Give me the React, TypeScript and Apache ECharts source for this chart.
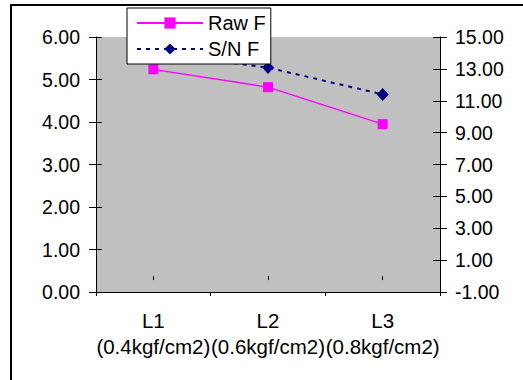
import React, { useEffect, useRef } from "react";
import * as echarts from "echarts";

const categories = ["L1\n(0.4kgf/cm2)", "L2\n(0.6kgf/cm2)", "L3\n(0.8kgf/cm2)"];
const rawF = [5.24, 4.82, 3.95];
const snF = [14.0, 13.08, 11.4];
const leftTicks = [0, 1, 2, 3, 4, 5, 6];
const rightTicks = [-1, 1, 3, 5, 7, 9, 11, 13, 15];

const FONT = "'Liberation Sans', Arial, sans-serif";

export default function App() {
  const ref = useRef<HTMLDivElement>(null);
  useEffect(() => {
    if (!ref.current) return;
    const chart = echarts.init(ref.current, null, { renderer: "svg" });
    const labelStyle = { color: "#000", fontSize: 19.5, fontFamily: FONT };
    chart.setOption({
      animation: false,
      backgroundColor: "#fff",
      textStyle: { fontFamily: FONT },
      graphic: [
        {
          type: "rect",
          shape: { x: 11, y: 5, width: 700, height: 600 },
          style: { fill: "none", stroke: "#000", lineWidth: 2 },
          silent: true,
          z: 0,
        },
      ],
      grid: {
        left: 96,
        right: 83,
        top: 37,
        bottom: 88,
        show: true,
        backgroundColor: "#C0C0C0",
        borderWidth: 0,
      },
      legend: {
        orient: "vertical",
        left: 127,
        top: 8,
        padding: [5, 5, 5, 9],
        itemGap: 6,
        itemWidth: 66,
        itemHeight: 14,
        backgroundColor: "#fff",
        borderColor: "#000",
        borderWidth: 1,
        borderRadius: 0,
        textStyle: { color: "#000", fontSize: 20, fontFamily: FONT },
        data: ["Raw F", "S/N F"],
        z: 10,
      },
      xAxis: [
        {
          type: "category",
          data: categories,
          boundaryGap: true,
          axisLine: { show: true, lineStyle: { color: "#000", width: 1 } },
          axisTick: { show: true, alignWithLabel: false, length: 4, lineStyle: { color: "#000" } },
          axisLabel: { ...labelStyle, fontSize: 20.5, interval: 0, margin: 15, lineHeight: 26 },
          splitLine: { show: false },
        },
        {
          type: "category",
          data: categories,
          boundaryGap: true,
          position: "bottom",
          axisLine: { show: false },
          axisTick: { show: true, alignWithLabel: true, length: 4, lineStyle: { color: "#000" } },
          axisLabel: { show: false },
          splitLine: { show: false },
        },
      ],
      yAxis: [
        {
          type: "value",
          position: "left",
          min: 0,
          max: 6,
          interval: 1,
          axisLine: { show: true, lineStyle: { color: "#000", width: 1 } },
          axisTick: { show: true, length: 7, lineStyle: { color: "#000" } },
          axisLabel: { ...labelStyle, margin: 16, formatter: (v: number) => v.toFixed(2) },
          splitLine: { show: false },
        },
        {
          type: "value",
          position: "right",
          min: -1,
          max: 15,
          axisLine: { show: true, lineStyle: { color: "#000", width: 1 } },
          axisTick: { show: true, length: 7, customValues: rightTicks, lineStyle: { color: "#000" } },
          axisLabel: {
            ...labelStyle,
            margin: 15,
            customValues: rightTicks,
            formatter: (v: number) => v.toFixed(2),
          },
          splitLine: { show: false },
        },
        {
          type: "value",
          position: "left",
          min: 0,
          max: 6,
          interval: 1,
          axisLine: { show: false },
          axisTick: { show: true, inside: true, length: 6, customValues: leftTicks, lineStyle: { color: "#000" } },
          axisLabel: { show: false },
          splitLine: { show: false },
        },
        {
          type: "value",
          position: "right",
          min: -1,
          max: 15,
          axisLine: { show: false },
          axisTick: { show: true, inside: true, length: 7, customValues: rightTicks, lineStyle: { color: "#000" } },
          axisLabel: { show: false },
          splitLine: { show: false },
        },
      ],
      series: [
        {
          name: "Raw F",
          type: "line",
          xAxisIndex: 0,
          yAxisIndex: 0,
          data: rawF,
          symbol: "rect",
          symbolSize: 10,
          itemStyle: { color: "#FF00FF" },
          lineStyle: { color: "#FF00FF", width: 1.3 },
          z: 3,
        },
        {
          name: "S/N F",
          type: "line",
          xAxisIndex: 0,
          yAxisIndex: 1,
          data: snF,
          symbol: "diamond",
          symbolSize: [12, 13],
          itemStyle: { color: "#000080" },
          lineStyle: { color: "#000080", width: 2, type: [4, 5] },
          z: 3,
        },
      ],
    });
    return () => chart.dispose();
  }, []);
  return (
    <div
      ref={ref}
      style={{ position: "fixed", left: 0, top: 0, width: 523, height: 380 }}
    />
  );
}
